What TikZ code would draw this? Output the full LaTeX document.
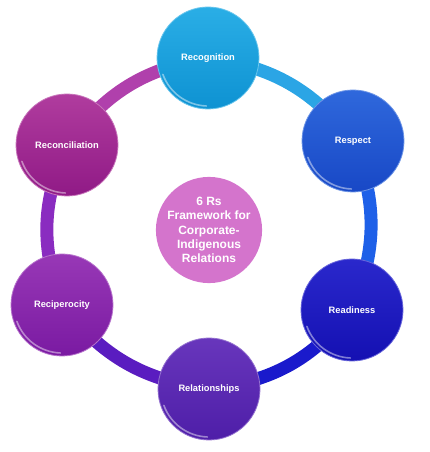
\documentclass[tikz,border=0pt]{standalone}
\usepackage{fontspec}
\setmainfont{Liberation Sans}
\usetikzlibrary{backgrounds}
\definecolor{recogT}{HTML}{2AAEE6}\definecolor{recogB}{HTML}{0E92D2}
\definecolor{respT}{HTML}{2F68DC}\definecolor{respB}{HTML}{1848C6}
\definecolor{readT}{HTML}{2A28CC}\definecolor{readB}{HTML}{1410B2}
\definecolor{relT}{HTML}{6836BC}\definecolor{relB}{HTML}{4E1EA8}
\definecolor{recipT}{HTML}{9838B6}\definecolor{recipB}{HTML}{7A1AA2}
\definecolor{recoT}{HTML}{B03C9E}\definecolor{recoB}{HTML}{901A86}
\definecolor{centerC}{HTML}{D474CC}
\definecolor{segA}{HTML}{2BA5E5}
\definecolor{segB}{HTML}{1E60E8}
\definecolor{segC}{HTML}{1A1ACC}
\definecolor{segD}{HTML}{5A1CC0}
\definecolor{segE}{HTML}{8A2CC0}
\definecolor{segF}{HTML}{B040AC}
\tikzset{
  ball/.style 2 args={circle, minimum size=102pt, inner sep=0pt, text=white,
    font=\bfseries\fontsize{9.3}{11}\selectfont,
    top color=#1, bottom color=#2, draw=#1!70!white, line width=0.8pt,
    path picture={
      \draw[white, opacity=0.45, line width=1.6pt, line cap=round]
        ([shift={(200:48pt)}]path picture bounding box.center)
        arc[start angle=200, end angle=268, radius=48pt];
    }},
  ringseg/.style={line width=13pt, bend left=22},
}
\begin{document}
\begin{tikzpicture}[x=1pt,y=1pt]
\useasboundingbox (0,0) rectangle (430,452);
\node[ball={recogT}{recogB}] (recog) at (208,394) {Recognition};
\node[ball={respT}{respB}] (resp) at (353,311) {Respect};
\node[ball={readT}{readB}] (read) at (352,142) {Readiness};
\node[ball={relT}{relB}] (rel) at (209,63) {Relationships};
\node[ball={recipT}{recipB}] (recip) at (62,147) {Reciperocity};
\node[ball={recoT}{recoB}] (reco) at (67,307) {Reconciliation};
\node[circle, minimum size=100pt, inner sep=0pt, fill=centerC, text=white,
      align=center, font=\bfseries\fontsize{12}{14.3}\selectfont]
  (center) at (209,222) {6 Rs\\Framework for\\Corporate-\\Indigenous\\Relations};
\begin{pgfonlayer}{background}
  \draw[ringseg, segA] (recog.center) to (resp.center);
  \draw[ringseg, segB] (resp.center) to (read.center);
  \draw[ringseg, segC] (read.center) to (rel.center);
  \draw[ringseg, segD] (rel.center) to (recip.center);
  \draw[ringseg, segE] (recip.center) to (reco.center);
  \draw[ringseg, segF] (reco.center) to (recog.center);
\end{pgfonlayer}
\end{tikzpicture}
\end{document}
